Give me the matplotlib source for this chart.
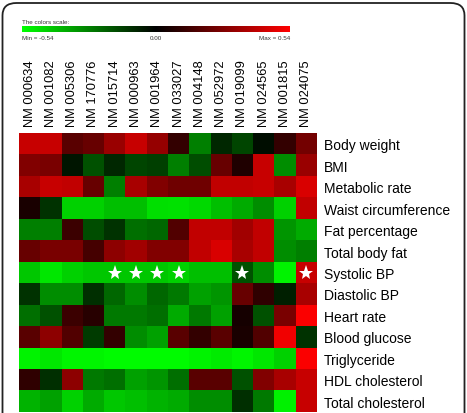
import numpy as np
import matplotlib
matplotlib.use("Agg")
import matplotlib.pyplot as plt
from matplotlib.colors import LinearSegmentedColormap
from matplotlib.patches import FancyBboxPatch

genes = ["NM 000634", "NM 001082", "NM 005306", "NM 170776", "NM 015714",
         "NM 000963", "NM 001964", "NM 033027", "NM 004148", "NM 052972",
         "NM 019099", "NM 024565", "NM 001815", "NM 024075"]
traits = ["Body weight", "BMI", "Metabolic rate", "Waist circumference",
          "Fat percentage", "Total body fat", "Systolic BP", "Diastolic BP",
          "Heart rate", "Blood glucose", "Triglyceride", "HDL cholesterol",
          "Total cholesterol"]

vmin, vmax = -0.54, 0.54

# correlation values (fraction of max scale)
body_weight  = [0.78, 0.78, 0.35, 0.40, 0.60, 0.78, 0.58, 0.20, -0.50, -0.15, -0.27, -0.05, 0.20, 0.45]
bmi          = [0.50, 0.47, -0.08, -0.32, -0.15, -0.27, -0.25, -0.50, -0.30, 0.40, 0.12, 0.78, -0.55, 0.60]
metabolic    = [0.66, 0.78, 0.75, 0.40, -0.50, 0.66, 0.50, 0.43, 0.43, 0.75, 0.75, 0.78, 0.66, 0.85]
waist        = [0.10, -0.20, -0.82, -0.82, -0.75, -0.75, -0.87, -0.88, -0.85, -0.75, -0.67, -0.55, -0.82, 0.75]
fat_pct      = [-0.50, -0.50, 0.23, -0.30, -0.20, -0.43, -0.40, 0.32, 0.75, 0.75, 0.63, 0.75, -0.58, -0.67]
total_fat    = [0.40, 0.47, 0.47, 0.27, 0.55, 0.63, 0.50, 0.50, 0.75, 0.85, 0.66, 0.75, -0.55, -0.50]
systolic     = [-0.78, -0.90, -0.82, -0.78, -0.78, -0.78, -0.78, -0.82, -0.75, -0.75, -0.32, -0.55, -0.95, 0.78]
diastolic    = [-0.20, -0.55, -0.55, -0.18, -0.40, -0.55, -0.40, -0.47, -0.63, -0.58, 0.40, 0.18, -0.12, 0.66]
heart_rate   = [-0.43, -0.32, 0.23, 0.15, -0.47, -0.47, -0.43, -0.67, -0.47, -0.63, 0.08, -0.32, 0.47, 0.98]
glucose      = [0.35, 0.55, 0.32, -0.23, 0.20, -0.55, -0.63, 0.35, 0.20, 0.35, 0.10, 0.32, 0.94, -0.20]
triglyceride = [-0.95, -0.90, -0.96, -0.96, -0.98, -0.98, -0.98, -0.98, -0.95, -0.92, -0.96, -0.90, -0.82, 0.98]
hdl          = [0.18, -0.18, 0.55, -0.47, -0.43, -0.63, -0.58, -0.43, 0.35, 0.35, -0.32, 0.50, 0.66, 0.78]
total_chol   = [-0.70, -0.63, -0.82, -0.67, -0.78, -0.75, -0.70, -0.67, -0.55, -0.55, -0.18, -0.47, -0.94, 0.78]

# significant cells (row index, column index)
star_rows = [6, 6, 6, 6, 6, 6]
star_cols = [4, 5, 6, 7, 10, 13]

data = np.array([body_weight, bmi, metabolic, waist, fat_pct, total_fat, systolic,
                 diastolic, heart_rate, glucose, triglyceride, hdl, total_chol]) * vmax

cmap = LinearSegmentedColormap.from_list("gbr", [(0, 1, 0), (0, 0, 0), (1, 0, 0)])

plt.rcParams['font.family'] = ['Liberation Sans', 'DejaVu Sans']

W, H = 467, 414
fig = plt.figure(figsize=(W / 100, H / 100), dpi=100)

def fx(px):
    return px / W

def fy(py):
    return 1 - py / H

# rounded frame
frame = FancyBboxPatch((fx(2.5), fy(430)), fx(462), (430 - 4) / H,
                       boxstyle="round,pad=0,rounding_size=0.03",
                       transform=fig.transFigure, fill=False,
                       edgecolor="#222222", linewidth=1.3)
fig.add_artist(frame)

# heatmap
left, right, top, bottom = 19, 317, 134, 413
ax = fig.add_axes([fx(left), fy(bottom), fx(right - left), (bottom - top) / H])
nr, nc = data.shape
ax.imshow(data, cmap=cmap, vmin=vmin, vmax=vmax, aspect="auto",
          interpolation="nearest", extent=(-0.5, nc - 0.5, nr - 0.5, -0.5))
ax.plot(star_cols, star_rows, linestyle="none", marker="*", markersize=11,
        color="white", markeredgewidth=0)
ax.set_xlim(-0.5, nc - 0.5)
ax.set_ylim(nr - 0.5, -0.5)
for s in ax.spines.values():
    s.set_visible(False)
ax.xaxis.tick_top()
ax.set_xticks(range(nc))
ax.set_xticklabels(genes, rotation=90, fontsize=9.3, va="bottom", ha="center")
ax.yaxis.tick_right()
ax.set_yticks(range(nr))
ax.set_yticklabels(traits, fontsize=10)
ax.tick_params(length=0, pad=5)

# colour scale bar
cax = fig.add_axes([fx(22), fy(33), fx(268), 6 / H])
grad = np.linspace(vmin, vmax, 256)[None, :]
cax.imshow(grad, cmap=cmap, vmin=vmin, vmax=vmax, aspect="auto")
cax.set_axis_off()
fig.text(fx(22), fy(22), "The colors scale:", fontsize=4.5, va="center", ha="left", color="#333333")
fig.text(fx(22), fy(38), "Min = -0.54", fontsize=4.5, va="center", ha="left", color="#333333")
fig.text(fx(156), fy(38), "0.00", fontsize=4.5, va="center", ha="center", color="#333333")
fig.text(fx(290), fy(38), "Max = 0.54", fontsize=4.5, va="center", ha="right", color="#333333")

fig.savefig("out.png", dpi=100)
